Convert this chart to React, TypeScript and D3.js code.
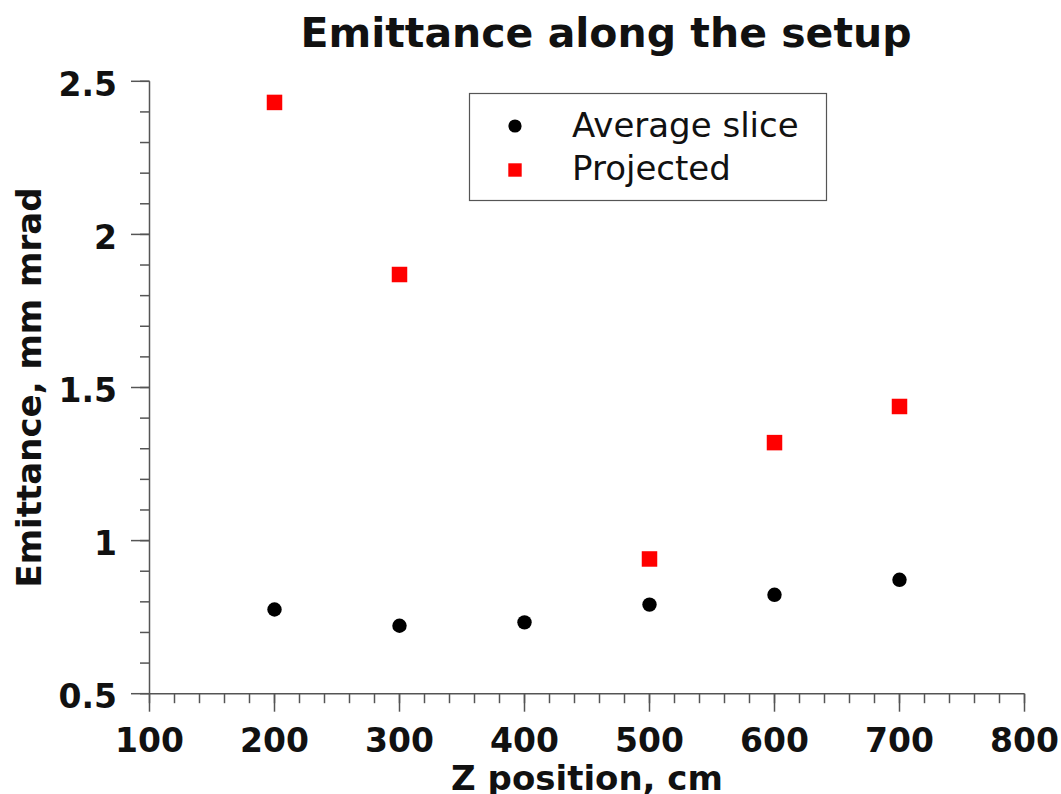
import React from "react";
import * as d3 from "d3";

const zPositions = [200, 300, 400, 500, 600, 700];
const averageSlice = [0.775, 0.722, 0.733, 0.791, 0.823, 0.872];
const projZ = [200, 300, 500, 600, 700];
const projected = [2.431, 1.869, 0.94, 1.32, 1.438];
const legendLabels = ["Average slice", "Projected"];

const W = 1061;
const H = 794;
const FONT = "'DejaVu Sans', sans-serif";
const AXIS = "#555";
const TEXT = "#111";

export default function App() {
  const x = d3.scaleLinear().domain([100, 800]).range([149.5, 1024.5]);
  const y = d3.scaleLinear().domain([0.5, 2.5]).range([693.7, 81.3]);
  const xMajor = x.ticks(7);
  const xMinor = x.ticks(35);
  const yMajor = y.ticks(4);
  const yMinor = y.ticks(20);
  const fmt = d3.format("~g");
  const [x0, x1] = x.range();
  const [y0, y1] = y.range();

  return (
    <svg
      width={W}
      height={H}
      style={{ position: "absolute", left: 0, top: 0, background: "#fff" }}
      fontFamily={FONT}
    >
      <rect width={W} height={H} fill="#fff" />
      <text x={606} y={47} textAnchor="middle" fontSize={41} fontWeight="bold" fill={TEXT}>
        Emittance along the setup
      </text>

      {/* axes */}
      <g stroke={AXIS} strokeWidth={1.5} fill="none">
        <line x1={x0} x2={x1} y1={y0} y2={y0} />
        <line x1={x0} x2={x0} y1={y0} y2={y1} />
        {xMinor.map((t) => (
          <line key={"xm" + t} x1={x(t)} x2={x(t)} y1={y0} y2={y0 + 9.5} />
        ))}
        {xMajor.map((t) => (
          <line key={"xM" + t} x1={x(t)} x2={x(t)} y1={y0} y2={y0 + 18} />
        ))}
        {yMinor.map((t) => (
          <line key={"ym" + t} x1={x0} x2={x0 - 9.5} y1={y(t)} y2={y(t)} />
        ))}
        {yMajor.map((t) => (
          <line key={"yM" + t} x1={x0} x2={x0 - 18.5} y1={y(t)} y2={y(t)} />
        ))}
      </g>

      {xMajor.map((t) => (
        <text key={"xl" + t} x={x(t)} y={752} textAnchor="middle" fontSize={33} fontWeight="bold" fill={TEXT}>
          {fmt(t)}
        </text>
      ))}
      {yMajor.map((t) => (
        <text key={"yl" + t} x={117} y={y(t) + 14.7} textAnchor="end" fontSize={33} fontWeight="bold" fill={TEXT}>
          {fmt(t)}
        </text>
      ))}

      <text x={(x0 + x1) / 2} y={790} textAnchor="middle" fontSize={34} fontWeight="bold" fill={TEXT}>
        Z position, cm
      </text>
      <text
        transform={`translate(41,${(y0 + y1) / 2}) rotate(-90)`}
        textAnchor="middle"
        fontSize={34}
        fontWeight="bold"
        fill={TEXT}
      >
        Emittance, mm mrad
      </text>

      {/* data */}
      {zPositions.map((z, i) => (
        <circle key={"c" + z} cx={x(z)} cy={y(averageSlice[i])} r={7.2} fill="#000" />
      ))}
      {projZ.map((z, i) => (
        <rect key={"s" + z} x={x(z) - 7.75} y={y(projected[i]) - 7.75} width={15.5} height={15.5} fill="#ff0000" />
      ))}

      {/* legend */}
      <rect x={469.5} y={93.5} width={357} height={107} fill="#fff" stroke={AXIS} strokeWidth={1.2} />
      <circle cx={515} cy={126} r={6.6} fill="#000" />
      <rect x={508.3} y={163.3} width={13.4} height={13.4} fill="#ff0000" />
      <text x={572} y={136.7} fontSize={34} fill={TEXT}>
        {legendLabels[0]}
      </text>
      <text x={572} y={180} fontSize={34} fill={TEXT}>
        {legendLabels[1]}
      </text>
    </svg>
  );
}
